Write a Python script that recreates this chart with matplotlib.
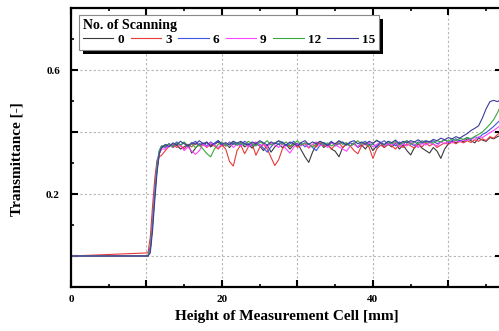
import numpy as np
import matplotlib
matplotlib.use("Agg")
import matplotlib.pyplot as plt
from matplotlib.patches import Rectangle
from matplotlib.ticker import FixedLocator, FixedFormatter, MultipleLocator

plt.rcParams["font.family"] = ["Liberation Serif", "DejaVu Serif"]
plt.rcParams["font.weight"] = "bold"

# start / rise segment (mm)
x_rise = [0.0, 0.05, 10.2, 10.5, 10.8, 11.1, 11.4, 11.7, 12.0]
# noisy plateau sampled every 0.5 mm from 12.5 to 57.0
x_plateau = np.arange(12.5, 57.01, 0.5)

labels = ["0", "3", "6", "9", "12", "15"]
colors = ["#3a3a3a", "#e8393a", "#3b55e6", "#ff44ff", "#3aa83a", "#3c3c9a"]

rise_0 = [0.06, 0.0, 0.0, 0.02, 0.10, 0.20, 0.28, 0.33, 0.35]
rise_3 = [0.12, 0.0, 0.01, 0.06, 0.16, 0.25, 0.31, 0.32, 0.325]
rise_6 = [0.30, 0.0, 0.0, 0.03, 0.12, 0.22, 0.30, 0.34, 0.355]
rise_9 = [0.22, 0.0, 0.0, 0.02, 0.11, 0.21, 0.29, 0.33, 0.345]
rise_12 = [0.45, 0.0, 0.0, 0.02, 0.10, 0.20, 0.29, 0.34, 0.355]
rise_15 = [0.36, 0.0, 0.0, 0.01, 0.08, 0.18, 0.27, 0.33, 0.35]

plat_0 = [0.355, 0.362, 0.350, 0.358, 0.345, 0.352, 0.360, 0.332, 0.348, 0.362,
          0.358, 0.366, 0.352, 0.360, 0.368, 0.355, 0.362, 0.350, 0.364, 0.358,
          0.366, 0.352, 0.360, 0.348, 0.362, 0.355, 0.340, 0.358, 0.335, 0.352,
          0.362, 0.350, 0.360, 0.345, 0.358, 0.364, 0.342, 0.320, 0.302, 0.335,
          0.358, 0.364, 0.350, 0.360, 0.345, 0.338, 0.320, 0.350, 0.362, 0.355,
          0.365, 0.350, 0.358, 0.345, 0.362, 0.340, 0.355, 0.366, 0.350, 0.360,
          0.352, 0.364, 0.345, 0.358, 0.340, 0.326, 0.350, 0.362, 0.348, 0.340,
          0.332, 0.350, 0.338, 0.315, 0.345, 0.362, 0.370, 0.365, 0.374, 0.368,
          0.378, 0.372, 0.365, 0.380, 0.374, 0.370, 0.382, 0.378, 0.385, 0.390]
plat_3 = [0.340, 0.355, 0.362, 0.350, 0.358, 0.345, 0.360, 0.352, 0.365, 0.355,
          0.360, 0.350, 0.362, 0.355, 0.345, 0.358, 0.345, 0.305, 0.290, 0.340,
          0.358, 0.330, 0.352, 0.362, 0.325, 0.350, 0.360, 0.345, 0.318, 0.292,
          0.310, 0.345, 0.360, 0.352, 0.365, 0.350, 0.358, 0.362, 0.348, 0.360,
          0.352, 0.365, 0.355, 0.360, 0.345, 0.358, 0.365, 0.350, 0.362, 0.355,
          0.340, 0.330, 0.355, 0.362, 0.350, 0.315, 0.345, 0.358, 0.350, 0.362,
          0.355, 0.345, 0.360, 0.350, 0.362, 0.355, 0.348, 0.360, 0.352, 0.365,
          0.355, 0.362, 0.350, 0.358, 0.365, 0.360, 0.368, 0.362, 0.370, 0.365,
          0.372, 0.366, 0.375, 0.370, 0.378, 0.372, 0.385, 0.380, 0.392, 0.400]
plat_6 = [0.350, 0.362, 0.355, 0.368, 0.358, 0.365, 0.352, 0.362, 0.370, 0.358,
          0.365, 0.355, 0.368, 0.360, 0.372, 0.362, 0.355, 0.368, 0.360, 0.365,
          0.358, 0.370, 0.362, 0.355, 0.366, 0.360, 0.348, 0.335, 0.352, 0.365,
          0.360, 0.368, 0.355, 0.362, 0.370, 0.358, 0.365, 0.352, 0.362, 0.350,
          0.340, 0.358, 0.366, 0.360, 0.370, 0.355, 0.362, 0.368, 0.358, 0.365,
          0.360, 0.352, 0.365, 0.370, 0.358, 0.362, 0.350, 0.365, 0.372, 0.360,
          0.366, 0.355, 0.368, 0.360, 0.372, 0.362, 0.356, 0.368, 0.362, 0.370,
          0.365, 0.372, 0.362, 0.368, 0.375, 0.366, 0.372, 0.378, 0.370, 0.376,
          0.382, 0.376, 0.385, 0.380, 0.392, 0.398, 0.408, 0.418, 0.430, 0.442]
plat_9 = [0.345, 0.358, 0.350, 0.362, 0.355, 0.340, 0.352, 0.338, 0.328, 0.340,
          0.360, 0.352, 0.365, 0.358, 0.350, 0.362, 0.355, 0.366, 0.350, 0.360,
          0.355, 0.365, 0.352, 0.362, 0.368, 0.355, 0.362, 0.350, 0.365, 0.358,
          0.350, 0.362, 0.345, 0.332, 0.350, 0.362, 0.355, 0.365, 0.350, 0.360,
          0.368, 0.355, 0.362, 0.350, 0.365, 0.358, 0.352, 0.345, 0.338, 0.355,
          0.362, 0.350, 0.365, 0.358, 0.366, 0.352, 0.360, 0.368, 0.355, 0.362,
          0.358, 0.366, 0.352, 0.362, 0.355, 0.368, 0.360, 0.350, 0.364, 0.358,
          0.366, 0.360, 0.355, 0.368, 0.362, 0.370, 0.365, 0.372, 0.368, 0.375,
          0.372, 0.380, 0.376, 0.385, 0.382, 0.390, 0.398, 0.405, 0.414, 0.422]
plat_12 = [0.355, 0.362, 0.352, 0.365, 0.358, 0.368, 0.355, 0.362, 0.350, 0.358,
           0.345, 0.330, 0.320, 0.345, 0.360, 0.368, 0.355, 0.362, 0.370, 0.358,
           0.365, 0.358, 0.370, 0.362, 0.355, 0.368, 0.362, 0.372, 0.358, 0.365,
           0.370, 0.360, 0.368, 0.355, 0.362, 0.372, 0.358, 0.365, 0.360, 0.352,
           0.362, 0.370, 0.358, 0.365, 0.355, 0.362, 0.370, 0.360, 0.366, 0.355,
           0.362, 0.372, 0.360, 0.366, 0.355, 0.362, 0.374, 0.365, 0.358, 0.368,
           0.362, 0.370, 0.358, 0.366, 0.372, 0.360, 0.368, 0.362, 0.372, 0.366,
           0.370, 0.364, 0.372, 0.368, 0.375, 0.370, 0.378, 0.372, 0.380, 0.376,
           0.382, 0.378, 0.386, 0.392, 0.400, 0.412, 0.425, 0.440, 0.462, 0.488]
plat_15 = [0.360, 0.352, 0.365, 0.358, 0.370, 0.362, 0.355, 0.366, 0.360, 0.372,
           0.362, 0.368, 0.355, 0.364, 0.372, 0.360, 0.366, 0.358, 0.370, 0.364,
           0.370, 0.362, 0.358, 0.368, 0.362, 0.372, 0.365, 0.358, 0.368, 0.362,
           0.372, 0.366, 0.358, 0.368, 0.362, 0.355, 0.366, 0.372, 0.360, 0.368,
           0.362, 0.370, 0.364, 0.356, 0.368, 0.362, 0.372, 0.365, 0.358, 0.368,
           0.372, 0.362, 0.368, 0.360, 0.370, 0.364, 0.372, 0.366, 0.360, 0.370,
           0.366, 0.374, 0.362, 0.370, 0.365, 0.372, 0.368, 0.375, 0.366, 0.372,
           0.368, 0.376, 0.372, 0.380, 0.375, 0.382, 0.378, 0.385, 0.380, 0.388,
           0.395, 0.405, 0.412, 0.420, 0.445, 0.475, 0.498, 0.502, 0.498, 0.505]

rises = [rise_0, rise_3, rise_6, rise_9, rise_12, rise_15]
plateaus = [plat_0, plat_3, plat_6, plat_9, plat_12, plat_15]

fig = plt.figure(figsize=(4.99, 3.31), dpi=100)
# right spine sits just outside the picture, as in the cropped original
ax = fig.add_axes([71 / 499, 44 / 331, 431 / 499, 279 / 331])

x_all = np.concatenate([x_rise, x_plateau])
for lab, col, r, p in zip(labels, colors, rises, plateaus):
    ax.plot(x_all, np.concatenate([r, p]), color=col, lw=0.8, label=lab)

ax.set_xlim(0, 57.1)
ax.set_ylim(-0.1, 0.8)

ax.xaxis.set_major_locator(FixedLocator([0, 10, 20, 30, 40, 50]))
ax.xaxis.set_major_formatter(FixedFormatter(["0", "", "20", "", "40", ""]))
ax.xaxis.set_minor_locator(MultipleLocator(5))
ax.yaxis.set_major_locator(FixedLocator([0.0, 0.2, 0.4, 0.6]))
ax.yaxis.set_major_formatter(FixedFormatter(["", "0.2", "", "0.6"]))
ax.yaxis.set_minor_locator(FixedLocator([-0.1, 0.1, 0.3, 0.5, 0.7]))

ax.tick_params(which="both", direction="in", top=True, right=True, labelsize=8)
ax.tick_params(which="major", length=5, width=1.5)
ax.tick_params(which="minor", length=2.5, width=1.2)
ax.tick_params(axis="x", pad=6)
ax.tick_params(axis="y", pad=8)
for s in ax.spines.values():
    s.set_linewidth(1.6)

ax.grid(True, which="major", color="#b5b5b5", linestyle=(0, (2, 2)), linewidth=0.8)

ax.set_xlabel("Height of Measurement Cell [mm]", fontsize=11, fontweight="bold")
ax.set_ylabel("Transmittance [-]", fontsize=11, fontweight="bold")
ax.yaxis.set_label_coords(-0.11, 0.46)

leg = ax.legend(title="No. of Scanning", ncol=6, loc="upper left",
                bbox_to_anchor=(0.019, 0.975), borderaxespad=0, fontsize=9.5,
                title_fontproperties={"weight": "bold", "size": 10},
                handlelength=2.3, handletextpad=0.3, columnspacing=0.5,
                borderpad=0.3, labelspacing=0.2, fancybox=False, framealpha=1,
                edgecolor="#888888")
leg._legend_box.align = "left"
leg._legend_box.sep = 1
leg.get_frame().set_linewidth(0.8)

# black drop shadow behind the legend box
fig.canvas.draw()
bb = leg.get_window_extent().transformed(ax.transAxes.inverted())
dx = 4 / (431 / 499 * 499)
dy = 4 / (279 / 331 * 331)
ax.add_patch(Rectangle((bb.x0 + dx, bb.y0 - dy), bb.width, bb.height,
                       transform=ax.transAxes, facecolor="black",
                       edgecolor="none", zorder=4.9, clip_on=False))

fig.savefig("out.png", dpi=100)
